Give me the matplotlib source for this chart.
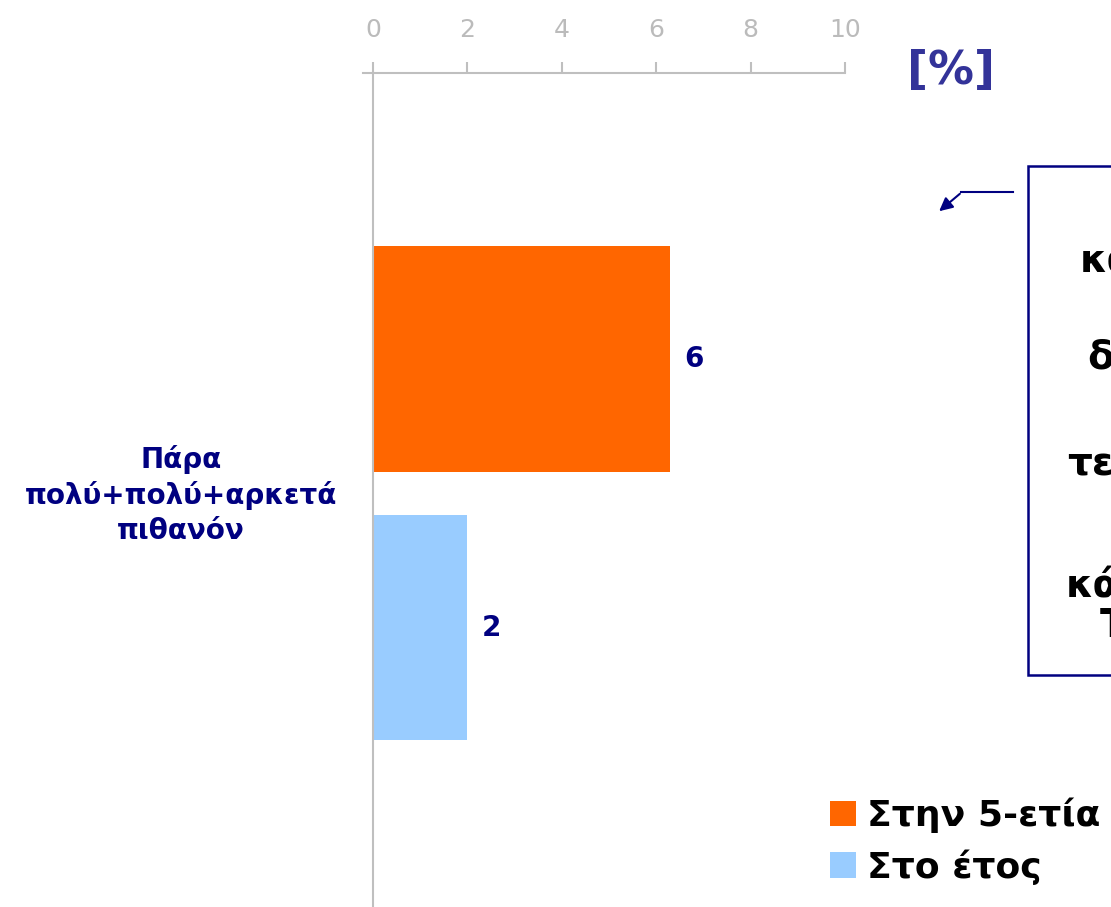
import matplotlib
matplotlib.use("Agg")
import matplotlib.pyplot as plt
from matplotlib.patches import Rectangle, FancyArrowPatch

plt.rcParams['font.family'] = ['DejaVu Sans']

# data
category = "Πάρα\nπολύ+πολύ+αρκετά\nπιθανόν"
series_names = ["Στην 5-ετία", "Στο έτος"]
series_values = [6.3, 2.0]
value_labels = ["6", "2"]
series_colors = ["#FF6600", "#99CCFF"]
x_ticks = [0, 2, 4, 6, 8, 10]
box_fragments = ["κα", "δ", "τε", "κά", "Τ"]

NAVY = "#000080"
GRID = "#BFBFBF"

W, H = 1111, 907
fig = plt.figure(figsize=(W / 100, H / 100), dpi=100)

# x: 0 -> 373px, 10 -> 845px ; top axis line at y=73px
x0, x10 = 373, 845
xmin = -0.22
unit = (x10 - x0) / 10
left_px = x0 + xmin * unit
ax = fig.add_axes([left_px / W, 0.0, (x10 - left_px) / W, 1 - 73 / H])

offsets = [-0.5, 0.5]
bar_h = 0.84
bars = []
for name, val, col, off in zip(series_names, series_values, series_colors, offsets):
    b = ax.barh(off, val, height=bar_h, color=col, label=name)
    bars.append(b)

for b, lab in zip(bars, value_labels):
    r = b[0]
    ax.text(r.get_width() + 0.3, r.get_y() + r.get_height() / 2, lab,
            ha='left', va='center', fontsize=20, fontweight='bold', color=NAVY)

ax.set_xlim(xmin, 10)
ax.set_ylim(1.54, -1.564)

ax.xaxis.tick_top()
ax.set_xticks(x_ticks)
ax.set_xticklabels([str(t) for t in x_ticks])
ax.tick_params(axis='x', colors=GRID, labelcolor="#BBBBBB", labelsize=18,
               length=8, width=1.5, direction='out', pad=14)
ax.set_yticks([])

for s in ['right', 'bottom']:
    ax.spines[s].set_visible(False)
ax.spines['top'].set_color(GRID)
ax.spines['top'].set_linewidth(1.5)
ax.spines['left'].set_color(GRID)
ax.spines['left'].set_linewidth(1.5)
ax.spines['left'].set_position(('data', 0))
ax.patch.set_alpha(0)

# category label
fig.text(181 / W, 1 - 495 / H, category, ha='center', va='center',
         fontsize=20, fontweight='bold', color=NAVY, linespacing=1.3,
         multialignment='center')

# unit
fig.text(951 / W, 1 - 71 / H, "[%]", ha='center', va='center',
         fontsize=33, fontweight='bold', color="#333399")

# note box (runs off the right edge, as in the source)
box = Rectangle((1028 / W, 1 - 675 / H), 200 / W, (675 - 166) / H,
                transform=fig.transFigure, facecolor='white',
                edgecolor=NAVY, linewidth=1.8)
fig.patches.append(box)
frag_pos = [(1080, 262), (1087, 358), (1067, 464), (1066, 586), (1100, 626)]
for frag, (fx, fy) in zip(box_fragments, frag_pos):
    fig.text(fx / W, 1 - fy / H, frag, ha='left', va='center',
             fontsize=28, fontweight='bold', color='black')

# arrow from box towards the chart
fig.add_artist(plt.Line2D([1013 / W, 961 / W], [1 - 192 / H, 1 - 192 / H],
                          transform=fig.transFigure, color=NAVY, lw=1.5))
arr = FancyArrowPatch((962 / W, 1 - 192 / H), (937 / W, 1 - 213 / H),
                      transform=fig.transFigure, arrowstyle='-|>',
                      mutation_scale=20, color=NAVY, lw=1.5)
fig.patches.append(arr)

# legend
fig.legend(handles=[b[0] for b in bars], labels=series_names,
           loc='upper left', bbox_to_anchor=(816 / W, 1 - 783 / H),
           frameon=False, prop={'size': 26, 'weight': 'bold'},
           handlelength=0.7, handleheight=0.7, handletextpad=0.3,
           labelspacing=0.45, borderaxespad=0)

fig.savefig("out.png", dpi=100)
